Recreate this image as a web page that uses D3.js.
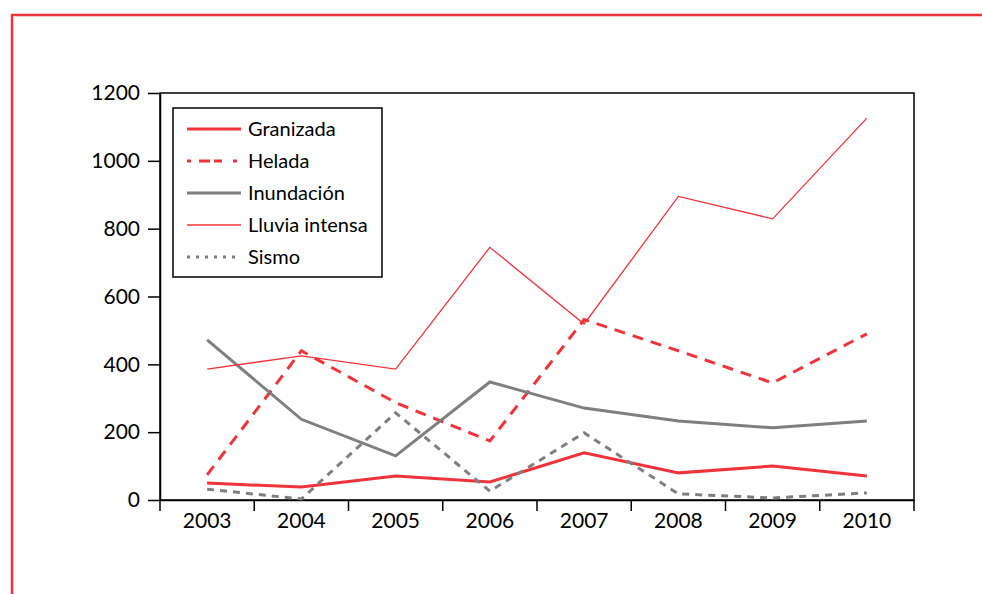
<!DOCTYPE html>
<html>
<head>
<meta charset="utf-8">
<script src="https://cdn.jsdelivr.net/npm/d3@7"></script>
<style>
  body { margin: 0; background: #fff; }
  svg { display: block; font-family: Lato, "Noto Sans", sans-serif; }
</style>
</head>
<body>
<div class="canvas"></div>
<script>
// data
const years = ['2003', '2004', '2005', '2006', '2007', '2008', '2009', '2010'];
const granizada = [50, 38, 71, 53, 139, 80, 100, 71];
const helada = [74, 440, 287, 174, 532, 440, 345, 490];
const inundacion = [472, 238, 130, 348, 271, 233, 213, 233];
const lluviaIntensa = [386, 425, 386, 745, 519, 895, 829, 1126];
const sismo = [32, 3, 257, 26, 198, 18, 6, 21];
const yTicks = [0, 200, 400, 600, 800, 1000, 1200];

const red = '#ee333b';
const grey = '#7f7f7f';

const series = [
    { name: 'Granizada', values: granizada, color: red, width: 3, dash: null },
    { name: 'Helada', values: helada, color: red, width: 3, dash: '11,8' },
    { name: 'Inundación', values: inundacion, color: grey, width: 3, dash: null },
    { name: 'Lluvia intensa', values: lluviaIntensa, color: red, width: 1.3, dash: null },
    { name: 'Sismo', values: sismo, color: grey, width: 3, dash: '7,6' }
];

const W = 982, H = 594;
const plotL = 160, plotR = 914, plotT = 93, plotB = 500;

const svg = d3.select('.canvas').append('svg')
    .attr('width', W)
    .attr('height', H);

// red page frame
svg.append('path')
    .attr('d', `M12,${H} L12,15 L${W},15`)
    .attr('fill', 'none')
    .attr('stroke', red)
    .attr('stroke-width', 2.5);

const x = d3.scaleBand().domain(years).range([plotL, plotR]).paddingInner(0).paddingOuter(0);
const y = d3.scaleLinear().domain([0, 1200]).range([plotB, plotT]);

// plot box
svg.append('rect')
    .attr('x', plotL).attr('y', plotT)
    .attr('width', plotR - plotL).attr('height', plotB - plotT)
    .attr('fill', 'none')
    .attr('stroke', '#000')
    .attr('stroke-width', 1.5);

// y axis
const yAxis = svg.append('g')
    .attr('transform', `translate(${plotL},0)`)
    .call(d3.axisLeft(y).tickValues(yTicks).tickFormat(d3.format('d'))
        .tickSize(12).tickPadding(8).tickSizeOuter(0));
yAxis.select('.domain').attr('stroke-width', 1.5);
yAxis.selectAll('.tick line').attr('stroke-width', 1.5);
yAxis.selectAll('.tick text').attr('font-size', 21).attr('fill', '#000').attr('font-family', 'Lato');

// x axis labels
const xAxis = svg.append('g')
    .attr('transform', `translate(0,${plotB})`)
    .call(d3.axisBottom(x).tickSize(0).tickPadding(13).tickSizeOuter(0));
xAxis.select('.domain').attr('stroke-width', 1.5);
xAxis.selectAll('.tick text').attr('font-size', 21).attr('fill', '#000').attr('font-family', 'Lato');

// x ticks on band edges
const edges = years.map(d => x(d)).concat([x.range()[1]]);
svg.append('g').selectAll('line')
    .data(edges)
    .join('line')
    .attr('x1', d => d).attr('x2', d => d)
    .attr('y1', plotB).attr('y2', plotB + 11)
    .attr('stroke', '#000')
    .attr('stroke-width', 1.5);

const line = d3.line()
    .x((d, i) => x(years[i]) + x.bandwidth() / 2)
    .y(d => y(d));

svg.append('g').selectAll('path')
    .data(series)
    .join('path')
    .attr('d', s => line(s.values))
    .attr('fill', 'none')
    .attr('stroke', s => s.color)
    .attr('stroke-width', s => s.width)
    .attr('stroke-dasharray', s => s.dash);

// legend
const legend = svg.append('g');
legend.append('rect')
    .attr('x', 173).attr('y', 108)
    .attr('width', 209).attr('height', 169)
    .attr('fill', '#fff')
    .attr('stroke', '#000')
    .attr('stroke-width', 1.5);

const item = legend.selectAll('g.item')
    .data(series)
    .join('g')
    .attr('class', 'item')
    .attr('transform', (d, i) => `translate(0,${129 + i * 32})`);

item.append('line')
    .attr('x1', 187).attr('x2', 241)
    .attr('stroke', d => d.color)
    .attr('stroke-width', d => d.width)
    .attr('stroke-dasharray', d => d.dash ? (d.name === 'Sismo' ? '3,6' : '4,8,11') : null);

item.append('text')
    .attr('x', 248)
    .attr('dy', '0.35em')
    .attr('font-size', 20)
    .text(d => d.name);
</script>
</body>
</html>
